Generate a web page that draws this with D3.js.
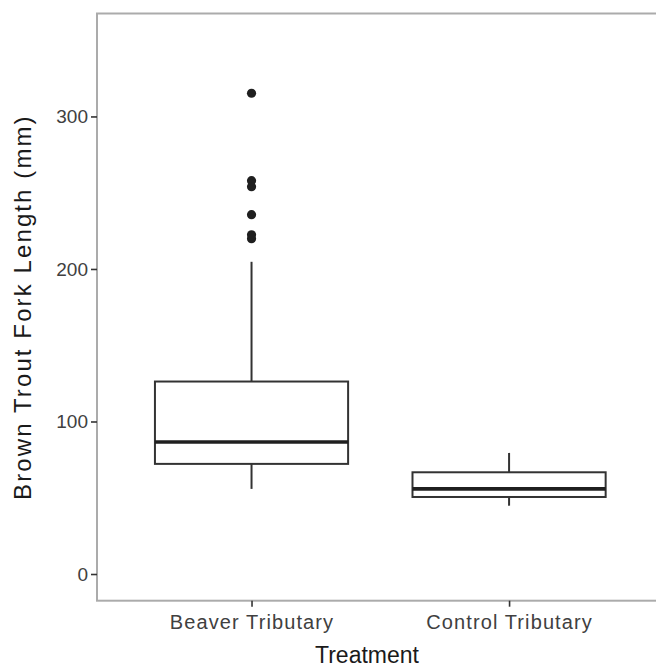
<!DOCTYPE html>
<html>
<head>
<meta charset="utf-8">
<script src="https://cdn.jsdelivr.net/npm/d3@7"></script>
<style>
  html, body { margin: 0; padding: 0; background: #fff; }
  svg { display: block; font-family: "Liberation Sans", Arial, sans-serif; }
</style>
</head>
<body>
<svg id="chart" width="656" height="667"></svg>
<script>
// Brown trout fork length by treatment (box summaries, mm)
const categories   = ["Beaver Tributary", "Control Tributary"];
const whiskerLow   = [55.8, 44.8];
const lowerHinge   = [72.2, 50.5];
const medians      = [86.6, 55.8];
const upperHinge   = [126.2, 66.7];
const whiskerHigh  = [204.7, 79.4];
const outliers     = [
  [315.2, 257.9, 253.9, 235.6, 222.4, 219.8],
  []
];
const yTicks = [0, 100, 200, 300];
const yLimits = [0, 350];

const svg = d3.select("#chart");
const panel = { left: 97, right: 663.6, top: 13.5, bottom: 600.7 };

// continuous y with 5% expansion of the fixed limits
const span = yLimits[1] - yLimits[0];
const y = d3.scaleLinear()
  .domain([yLimits[0] - 0.05 * span, yLimits[1] + 0.05 * span])
  .range([panel.bottom, panel.top]);

// discrete x with 0.6 units of padding at each end
const x = d3.scalePoint()
  .domain(categories)
  .range([panel.left, panel.right])
  .padding(0.6);
const boxW = x.step() * 0.75;

const boxes = categories.map((c, i) => ({
  cat: c, lo: whiskerLow[i], q1: lowerHinge[i], med: medians[i],
  q3: upperHinge[i], hi: whiskerHigh[i], out: outliers[i]
}));

const ink = "#333333";
const lw = 2;

// boxes, whiskers, medians and outlying points
const g = svg.append("g");
boxes.forEach(b => {
  const cx = x(b.cat);
  g.append("line")
    .attr("x1", cx).attr("x2", cx)
    .attr("y1", y(b.q3)).attr("y2", y(b.hi))
    .attr("stroke", ink).attr("stroke-width", lw);
  g.append("line")
    .attr("x1", cx).attr("x2", cx)
    .attr("y1", y(b.q1)).attr("y2", y(b.lo))
    .attr("stroke", ink).attr("stroke-width", lw);
  g.append("rect")
    .attr("x", cx - boxW / 2).attr("width", boxW)
    .attr("y", y(b.q3)).attr("height", y(b.q1) - y(b.q3))
    .attr("fill", "#fff").attr("stroke", ink).attr("stroke-width", lw);
  g.append("line")
    .attr("x1", cx - boxW / 2).attr("x2", cx + boxW / 2)
    .attr("y1", y(b.med)).attr("y2", y(b.med))
    .attr("stroke", "#1f1f1f").attr("stroke-width", 3.6);
  g.selectAll(null).data(b.out).enter().append("circle")
    .attr("cx", cx).attr("cy", d => y(d))
    .attr("r", 4.6).attr("fill", "#1f1f1f");
});

// panel border
svg.append("rect")
  .attr("x", panel.left).attr("y", panel.top)
  .attr("width", panel.right - panel.left)
  .attr("height", panel.bottom - panel.top)
  .attr("fill", "none").attr("stroke", "#ababab").attr("stroke-width", 2);

// y axis
const yAxis = svg.append("g")
  .attr("transform", `translate(${panel.left},0)`)
  .call(d3.axisLeft(y).tickValues(yTicks).tickSize(6).tickPadding(3));
yAxis.select(".domain").remove();
yAxis.selectAll(".tick line").attr("stroke", ink).attr("stroke-width", 1.6);
yAxis.selectAll(".tick text")
  .attr("fill", "#404040").style("font-size", "19px");

// x axis
const xAxis = svg.append("g")
  .attr("transform", `translate(0,${panel.bottom})`)
  .call(d3.axisBottom(x).tickSize(6).tickPadding(8));
xAxis.select(".domain").remove();
xAxis.selectAll(".tick line").attr("stroke", ink).attr("stroke-width", 1.6);
xAxis.selectAll(".tick text")
  .attr("fill", "#404040").style("font-size", "20px")
  .style("letter-spacing", "1.1px");

// axis titles
svg.append("text")
  .attr("x", 367).attr("y", 663)
  .attr("text-anchor", "middle")
  .style("font-size", "23px")
  .attr("fill", "#1a1a1a")
  .text("Treatment");

svg.append("text")
  .attr("transform", `translate(31,${(panel.top + panel.bottom) / 2}) rotate(-90)`)
  .attr("text-anchor", "middle")
  .style("font-size", "24px").style("letter-spacing", "2.1px")
  .attr("fill", "#1a1a1a")
  .text("Brown Trout Fork Length (mm)");
</script>
</body>
</html>
